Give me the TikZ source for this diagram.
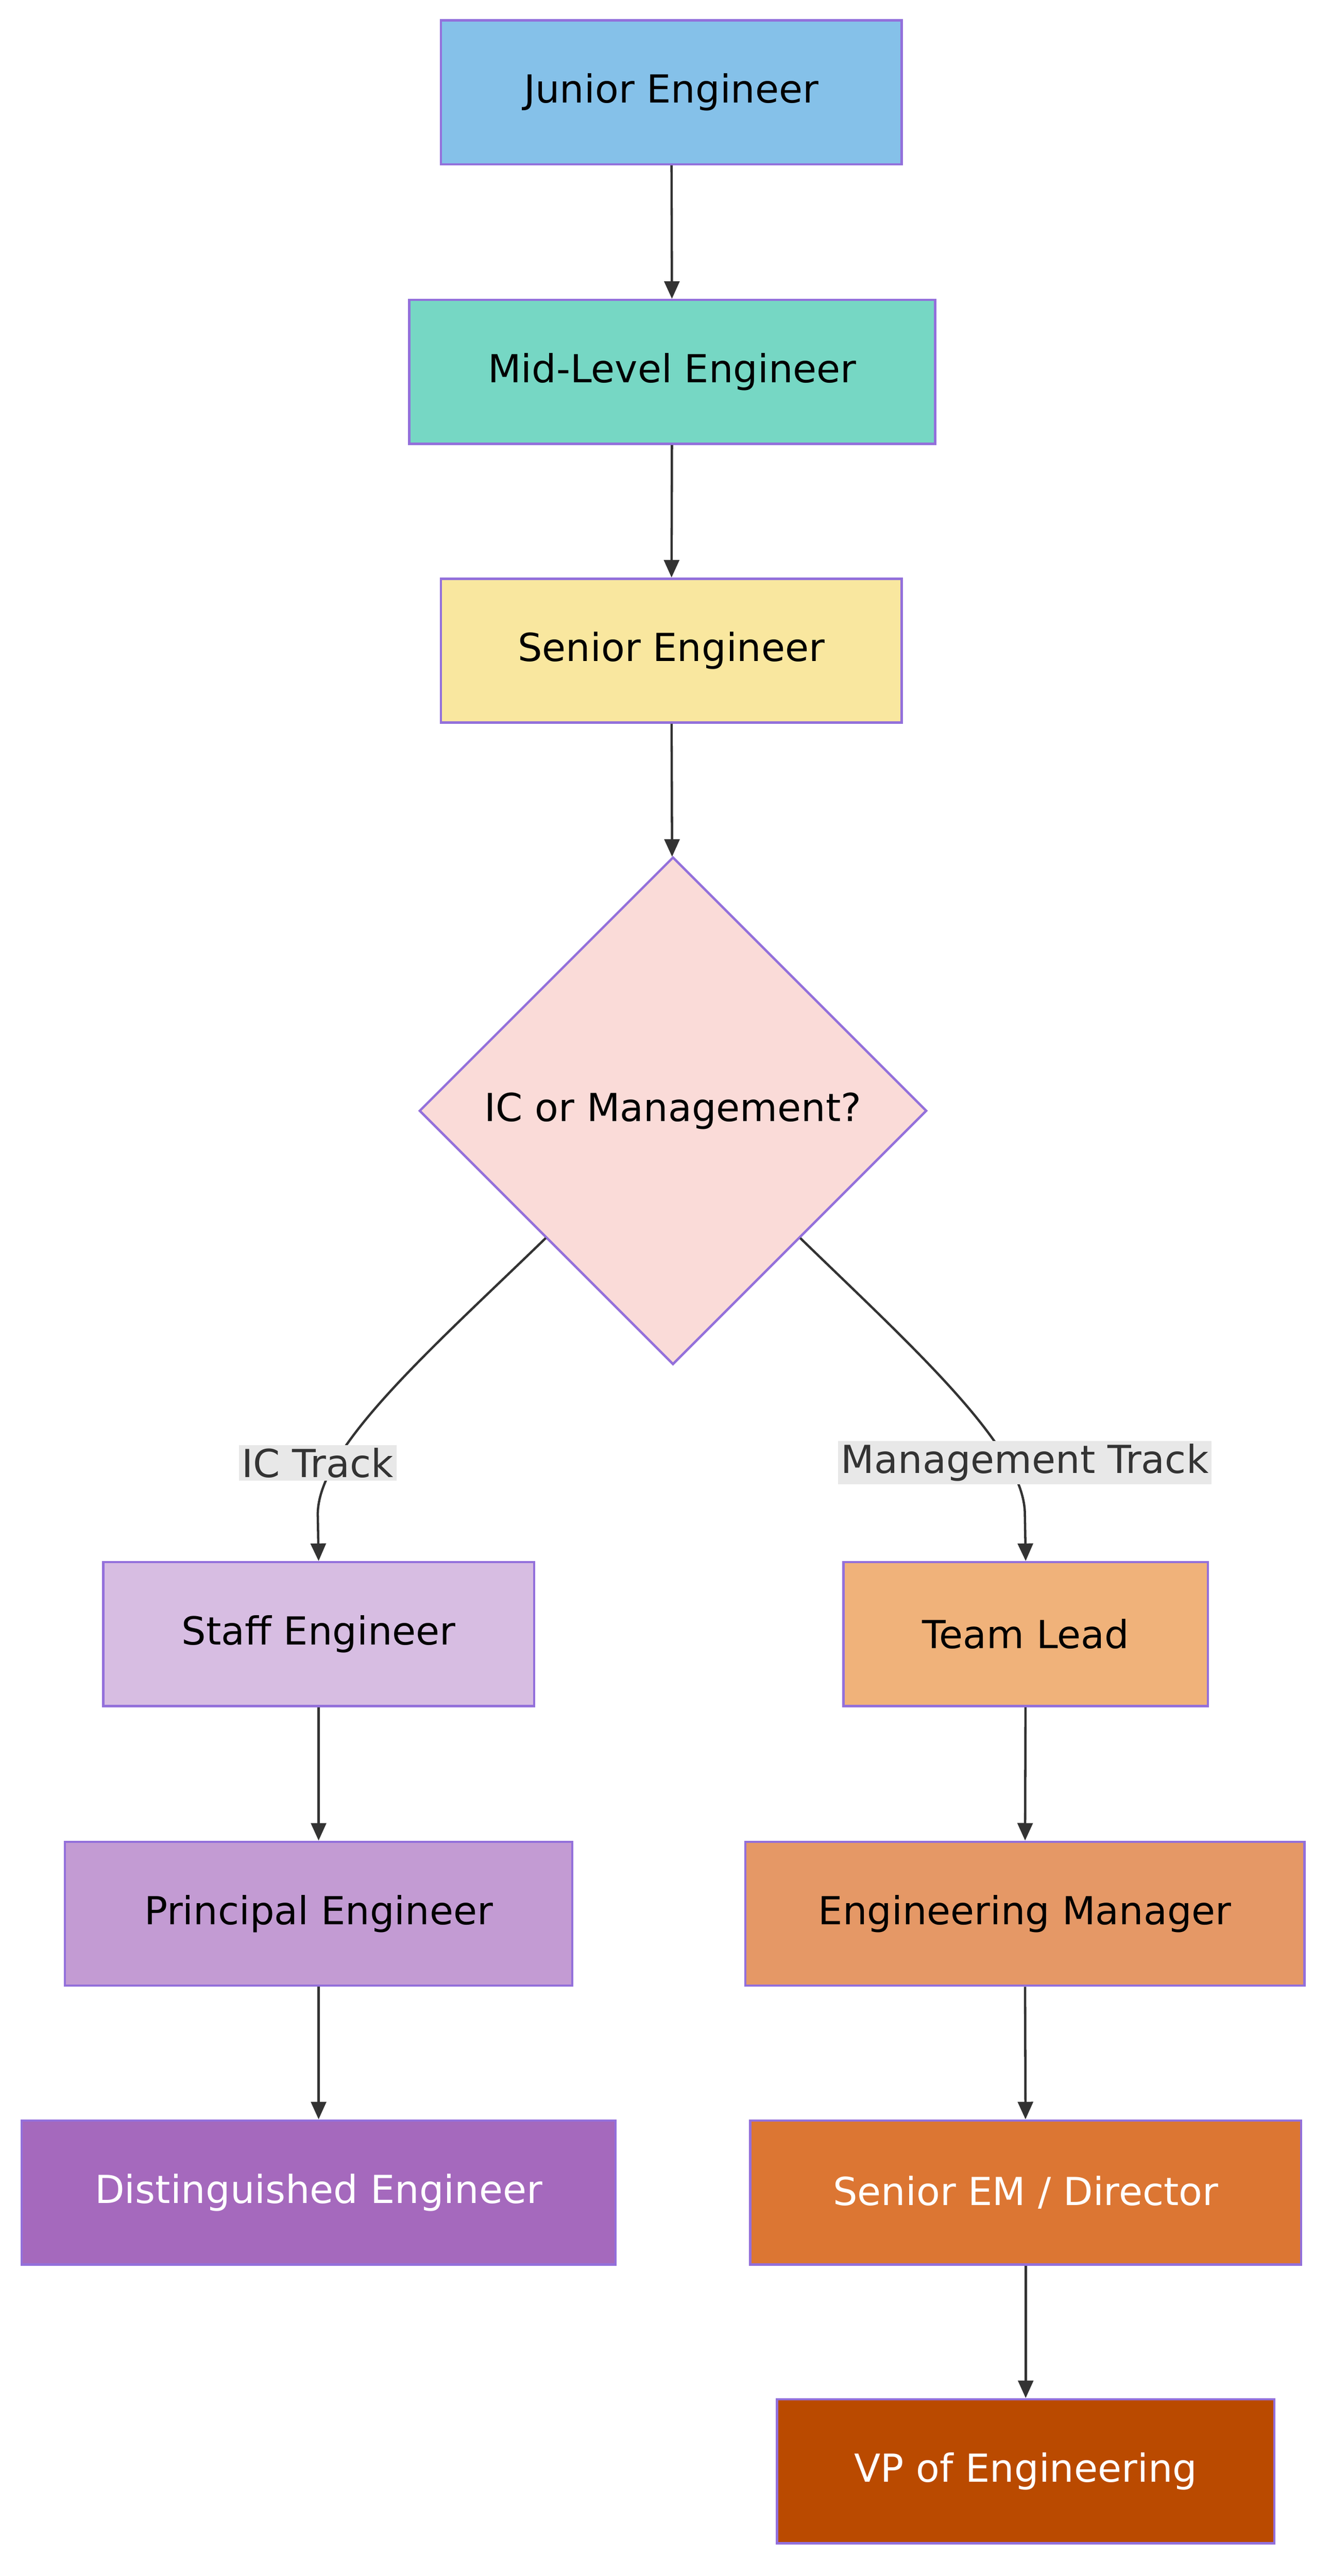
\documentclass[tikz,border=0pt]{standalone}
\usepackage{fontspec}
\setmainfont{DejaVu Sans}
\usetikzlibrary{shapes.geometric,arrows.meta}
\definecolor{bord}{HTML}{9370DB}
\definecolor{edge}{HTML}{333333}
\tikzset{
  box/.style={draw=bord,line width=4pt,inner sep=0pt,font=\fontsize{66}{76}\selectfont,minimum height=8.65cm},
  conn/.style={draw=edge,line width=4pt,-{Triangle[length=30pt,width=26pt]}},
  lbl/.style={fill=black!9,inner sep=5pt,font=\fontsize{66}{76}\selectfont,text=edge}
}
\begin{document}
\begin{tikzpicture}[x=0.1cm,y=-0.1cm]
\useasboundingbox[fill=white] (0,0) rectangle (800,1548);
\node[box,fill={rgb,255:red,133;green,193;blue,233},minimum width=27.7cm] (jr) at (403.5,55.5) {Junior Engineer};
\node[box,fill={rgb,255:red,118;green,215;blue,196},minimum width=31.6cm] (mid) at (404,223.5) {Mid-Level Engineer};
\node[box,fill={rgb,255:red,249;green,231;blue,159},minimum width=27.7cm] (sr) at (403.5,391) {Senior Engineer};
\node[diamond,draw=bord,line width=4pt,fill={rgb,255:red,250;green,219;blue,216},minimum width=30.5cm,minimum height=30.5cm,inner sep=0pt,font=\fontsize{66}{76}\selectfont] (dec) at (404.5,667.5) {IC or Management?};
\node[box,fill={rgb,255:red,215;green,189;blue,226},minimum width=25.9cm] (staff) at (191.5,982) {Staff Engineer};
\node[box,fill={rgb,255:red,195;green,155;blue,211},minimum width=30.5cm] (pr) at (191.5,1150) {Principal Engineer};
\node[box,fill={rgb,255:red,165;green,105;blue,189},minimum width=35.7cm,text=white] (dist) at (191.5,1317.5) {Distinguished Engineer};
\node[box,fill={rgb,255:red,240;green,178;blue,122},minimum width=21.9cm] (tl) at (616.5,982) {Team Lead};
\node[box,fill={rgb,255:red,229;green,152;blue,102},minimum width=33.6cm] (em) at (616,1150) {Engineering Manager};
\node[box,fill={rgb,255:red,220;green,118;blue,51},minimum width=33.1cm,text=white] (sem) at (616.5,1317.5) {Senior EM / Director};
\node[box,fill={rgb,255:red,186;green,74;blue,0},minimum width=29.9cm,text=white] (vp) at (616.5,1485) {VP of Engineering};
\draw[conn] (jr) -- (mid);
\draw[conn] (mid) -- (sr);
\draw[conn] (sr) -- (dec);
\draw[conn] (staff) -- (pr);
\draw[conn] (pr) -- (dist);
\draw[conn] (tl) -- (em);
\draw[conn] (em) -- (sem);
\draw[conn] (sem) -- (vp);
\coordinate (dl) at (328,744);
\coordinate (dr) at (481,744);
\draw[conn] (dl) .. controls (260,810) and (191,870) .. (191,910) -- (staff.north);
\draw[conn] (dr) .. controls (549,810) and (616,870) .. (616,910) -- (tl.north);
\node[lbl] (icl) at (191,879) {IC Track};
\node[lbl] (mgl) at (616,879) {Management Track};
\end{tikzpicture}
\end{document}
